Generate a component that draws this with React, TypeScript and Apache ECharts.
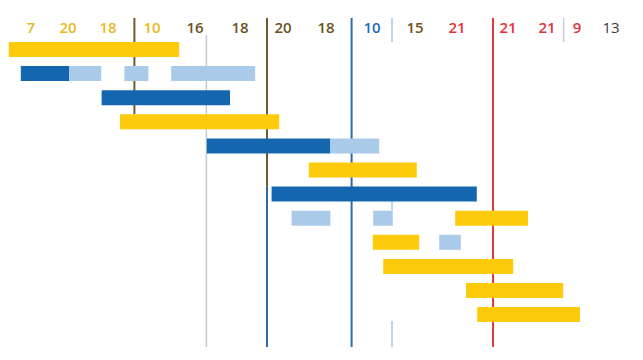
import React, { useEffect, useRef } from "react";
import * as echarts from "echarts";

// Bars: [row, start, end, kind]  (x unit: day)
const barRows = [0, 1, 1, 1, 1, 2, 3, 4, 4, 5, 6, 7, 7, 7, 8, 8, 9, 10, 11];
const barStarts = [2.2, 5.2, 17.3, 31.1, 42.8, 25.4, 30, 51.7, 82.6, 77.2, 67.9, 72.9, 93.3, 113.8, 93.2, 109.8, 95.8, 116.5, 119.3];
const barEnds = [44.8, 17.3, 25.3, 37.1, 63.8, 57.5, 69.8, 82.6, 94.8, 104.2, 119.2, 82.6, 98.2, 132, 104.8, 115.2, 128.3, 140.8, 145];
const barKinds = ["y", "d", "l", "l", "l", "d", "y", "d", "l", "y", "d", "l", "l", "y", "y", "l", "y", "y", "y"];

// Top labels
const tickLabels = ["7", "20", "18", "10", "16", "18", "20", "18", "10", "15", "21", "21", "21", "9", "13"];
const tickPositions = [7.67, 17, 27, 38, 48.75, 60, 70.75, 81.5, 93, 103.75, 114.25, 127, 136.75, 144.25, 152.75];
const tickKinds = ["y", "y", "y", "y", "b", "b", "b", "b", "d", "b", "r", "r", "r", "r", "g"];

// Vertical markers: x, from row, to row, kind
const markerX = [33.6, 51.6, 66.75, 66.75, 87.9, 98, 98, 98, 123.25, 140.9];
const markerFrom = [-1.31, -0.6, -1.31, 5.69, -1.31, -1.31, 6.2, 11.27, -1.31, -1.31];
const markerTo = [2.69, 12.34, 5.69, 12.34, 12.34, -0.31, 6.66, 12.34, 12.34, -0.31];
const markerKinds = ["b", "g", "b", "d", "d", "l", "l", "l", "r", "g"];

const barColors: Record<string, string> = { y: "#fecb0c", d: "#1466ae", l: "#a9cbe9" };
const labelColors: Record<string, string> = { y: "#e9b923", b: "#6b5224", d: "#1f6cb0", r: "#e0323a", g: "#3a3a3a" };
const lineColors: Record<string, string> = { b: "#6e5a30", g: "#c3ccd6", d: "#2f6aa8", l: "#a9c6e2", r: "#e23a3a" };

export default function App() {
  const ref = useRef<HTMLDivElement>(null);
  useEffect(() => {
    const chart = echarts.init(ref.current!, null, { renderer: "svg" });
    const barData = barRows.map((r, i) => [r, barStarts[i], barEnds[i], barKinds[i]]);
    const labelData = tickLabels.map((t, i) => [tickPositions[i], -0.93, t, tickKinds[i]]);
    const lineData = markerX.map((x, i) => [x, markerFrom[i], markerTo[i], markerKinds[i]]);
    chart.setOption({
      animation: false,
      grid: { left: 0, right: 3, top: 18, bottom: 13 },
      xAxis: { type: "value", min: 0, max: 160, show: false },
      yAxis: { type: "value", min: -1.307, max: 12.344, inverse: true, show: false },
      series: [
        {
          type: "custom",
          data: lineData,
          z: 1,
          renderItem: (params: any, api: any) => {
            const kind = lineData[params.dataIndex][3] as string;
            const p0 = api.coord([api.value(0), api.value(1)]);
            const p1 = api.coord([api.value(0), api.value(2)]);
            return {
              type: "line",
              shape: { x1: p0[0], y1: p0[1], x2: p1[0], y2: p1[1] },
              style: { stroke: lineColors[kind], lineWidth: kind === "g" || kind === "l" ? 1.5 : 2 },
            };
          },
        },
        {
          type: "custom",
          data: barData,
          z: 2,
          renderItem: (params: any, api: any) => {
            const kind = barData[params.dataIndex][3] as string;
            const s = api.coord([api.value(1), api.value(0)]);
            const e = api.coord([api.value(2), api.value(0)]);
            return {
              type: "rect",
              shape: { x: s[0], y: s[1] - 7.5, width: e[0] - s[0], height: 15 },
              style: { fill: barColors[kind] },
            };
          },
        },
        {
          type: "custom",
          data: labelData,
          z: 3,
          renderItem: (params: any, api: any) => {
            const item = labelData[params.dataIndex];
            const kind = item[3] as string;
            const p = api.coord([api.value(0), api.value(1)]);
            return {
              type: "text",
              x: p[0],
              y: p[1],
              style: {
                text: item[2] as string,
                fill: labelColors[kind],
                font: (kind === "g" ? "400" : "600") + " 15px 'Open Sans', sans-serif",
                align: "center",
                verticalAlign: "middle",
              },
            };
          },
        },
      ],
    });
    return () => chart.dispose();
  }, []);
  return <div ref={ref} style={{ width: 643, height: 360, position: "absolute", left: 0, top: 0 }} />;
}
